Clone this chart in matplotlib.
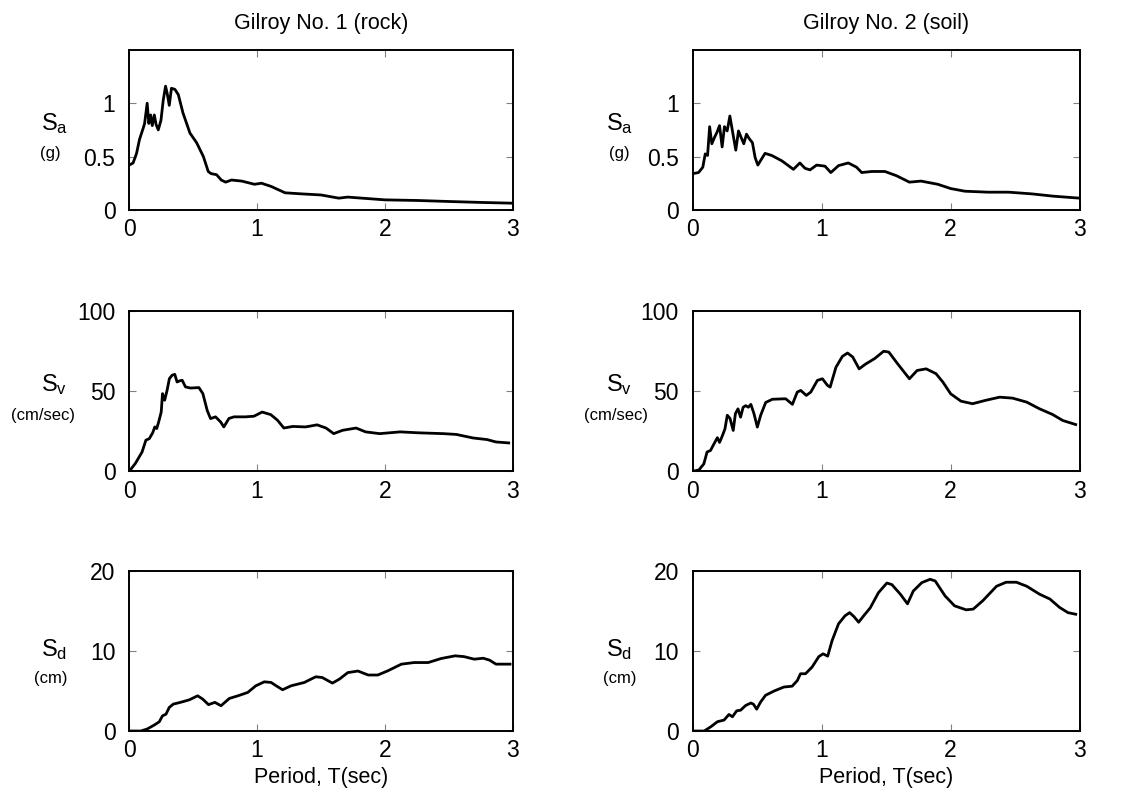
import matplotlib
matplotlib.use('Agg')
from matplotlib import pyplot as plt

plt.rcParams['font.family'] = ['Liberation Sans', 'DejaVu Sans']
plt.rcParams['mathtext.fontset'] = 'custom'
plt.rcParams['mathtext.rm'] = 'Liberation Sans'
plt.rcParams['mathtext.it'] = 'Liberation Sans'

# Gilroy No. 1 (rock) - spectral acceleration (g)
rock_sa_t = [0, 0.03, 0.057, 0.08, 0.11, 0.12, 0.14, 0.153, 0.167, 0.18, 0.196, 0.21,
             0.227, 0.248, 0.266, 0.284, 0.297, 0.313, 0.33, 0.357, 0.384, 0.42, 0.475,
             0.527, 0.58, 0.618, 0.64, 0.683, 0.72, 0.754, 0.8, 0.88, 0.98, 1.035, 1.11,
             1.22, 1.35, 1.5, 1.64, 1.71, 1.82, 2.0, 2.26, 2.52, 2.78, 2.99]
rock_sa = [0.42, 0.44, 0.53, 0.66, 0.77, 0.81, 1.0, 0.81, 0.89, 0.79, 0.89, 0.8,
           0.75, 0.84, 1.03, 1.16, 1.09, 0.98, 1.14, 1.13, 1.08, 0.91, 0.72,
           0.63, 0.5, 0.36, 0.34, 0.33, 0.28, 0.26, 0.28, 0.27, 0.24, 0.25, 0.22,
           0.16, 0.15, 0.14, 0.11, 0.12, 0.11, 0.094, 0.088, 0.078, 0.069, 0.063]

# Gilroy No. 2 (soil) - spectral acceleration (g)
soil_sa_t = [0, 0.044, 0.077, 0.096, 0.114, 0.13, 0.147, 0.168, 0.188, 0.207, 0.227,
             0.245, 0.266, 0.287, 0.307, 0.333, 0.354, 0.374, 0.395, 0.416, 0.436,
             0.462, 0.483, 0.504, 0.524, 0.56, 0.612, 0.69, 0.78, 0.83, 0.87, 0.909,
             0.96, 1.025, 1.07, 1.13, 1.206, 1.27, 1.31, 1.387, 1.49, 1.58, 1.68,
             1.77, 1.9, 2.0, 2.11, 2.29, 2.45, 2.63, 2.8, 3.0]
soil_sa = [0.34, 0.35, 0.4, 0.525, 0.51, 0.78, 0.62, 0.68, 0.73, 0.79, 0.59,
           0.78, 0.74, 0.88, 0.74, 0.56, 0.74, 0.68, 0.62, 0.71, 0.67,
           0.63, 0.49, 0.42, 0.46, 0.53, 0.51, 0.46, 0.38, 0.44, 0.39, 0.375,
           0.42, 0.41, 0.35, 0.415, 0.44, 0.4, 0.35, 0.36, 0.36, 0.32, 0.26,
           0.27, 0.24, 0.2, 0.175, 0.166, 0.166, 0.15, 0.128, 0.11]

# Gilroy No. 1 (rock) - spectral velocity (cm/sec)
rock_sv_t = [0, 0.047, 0.1, 0.13, 0.157, 0.183, 0.2, 0.215, 0.23, 0.25, 0.26, 0.277,
             0.296, 0.314, 0.335, 0.356, 0.374, 0.395, 0.414, 0.44, 0.48, 0.545,
             0.576, 0.61, 0.636, 0.675, 0.715, 0.74, 0.78, 0.82, 0.91, 0.976, 1.04,
             1.107, 1.16, 1.21, 1.28, 1.38, 1.47, 1.54, 1.6, 1.67, 1.775, 1.85,
             1.96, 2.12, 2.27, 2.46, 2.56, 2.69, 2.8, 2.87, 2.97]
rock_sv = [0, 4.8, 12, 19.4, 20.4, 24, 27.7, 26.7, 30.8, 37, 48.5, 44.4,
           50.6, 57.9, 60, 60.6, 55.8, 56.5, 56.9, 52.7, 52, 52.3,
           48.5, 38, 32.9, 34, 30.8, 27.7, 33, 34, 34, 34.4, 37,
           35.4, 31.9, 27, 28, 27.7, 29, 27, 23.5, 25.6, 27, 24.6,
           23.5, 24.6, 24, 23.5, 23, 20.8, 19.8, 18.3, 17.7]

# Gilroy No. 2 (soil) - spectral velocity (cm/sec)
soil_sv_t = [0, 0.047, 0.085, 0.11, 0.137, 0.163, 0.19, 0.207, 0.228, 0.249, 0.267,
             0.288, 0.313, 0.33, 0.35, 0.37, 0.39, 0.41, 0.43, 0.45, 0.474, 0.5,
             0.526, 0.565, 0.617, 0.72, 0.772, 0.81, 0.837, 0.88, 0.915, 0.966,
             1.005, 1.044, 1.065, 1.11, 1.16, 1.2, 1.24, 1.29, 1.34, 1.41, 1.48,
             1.52, 1.59, 1.68, 1.74, 1.81, 1.886, 1.94, 2.0, 2.08, 2.17, 2.27,
             2.38, 2.48, 2.59, 2.69, 2.79, 2.87, 2.97]
soil_sv = [0, 0.8, 4.6, 12, 13, 17, 21, 18, 22, 26.5, 35,
           33, 25.5, 36, 39, 33.8, 40, 41, 40, 41.8, 36, 27.6,
           35, 43, 45, 45.3, 41.8, 49.5, 50.5, 47.4, 49.5, 56.8,
           57.8, 53.7, 52.6, 65, 71.8, 73.9, 71.4, 64, 67, 70.4, 75,
           74.5, 67, 57.8, 63, 64, 61, 55.7, 48.4, 43.8, 42.2, 44.3,
           46.3, 45.7, 43.2, 39, 35.5, 31.7, 29.2]

# Gilroy No. 1 (rock) - spectral displacement (cm)
rock_sd_t = [0, 0.09, 0.14, 0.196, 0.235, 0.26, 0.287, 0.313, 0.345, 0.38, 0.418,
             0.47, 0.535, 0.574, 0.62, 0.67, 0.718, 0.783, 0.85, 0.927, 0.99,
             1.057, 1.11, 1.15, 1.2, 1.266, 1.37, 1.46, 1.51, 1.59, 1.645, 1.71,
             1.79, 1.87, 1.945, 2.02, 2.13, 2.23, 2.34, 2.44, 2.55, 2.62, 2.7,
             2.77, 2.82, 2.87, 2.98]
rock_sd = [0, 0, 0.25, 0.75, 1.16, 1.9, 2.1, 2.95, 3.37, 3.5, 3.66,
           3.9, 4.4, 4.0, 3.3, 3.58, 3.16, 4.07, 4.4, 4.82, 5.65,
           6.15, 6.07, 5.65, 5.16, 5.65, 6.07, 6.78, 6.69, 5.99, 6.49, 7.3,
           7.5, 7.0, 7.0, 7.5, 8.36, 8.56, 8.56, 9.06, 9.4, 9.3, 8.98,
           9.1, 8.86, 8.36, 8.36]

# Gilroy No. 2 (soil) - spectral displacement (cm)
soil_sd_t = [0, 0.088, 0.14, 0.19, 0.242, 0.28, 0.307, 0.34, 0.37, 0.41, 0.45, 0.47,
             0.495, 0.526, 0.564, 0.63, 0.706, 0.77, 0.81, 0.835, 0.874, 0.925,
             0.977, 1.01, 1.046, 1.08, 1.13, 1.18, 1.216, 1.25, 1.286, 1.325,
             1.376, 1.44, 1.505, 1.544, 1.61, 1.665, 1.71, 1.776, 1.84, 1.88,
             1.956, 2.03, 2.12, 2.175, 2.25, 2.356, 2.43, 2.51, 2.59, 2.69, 2.77,
             2.845, 2.91, 2.97]
soil_sd = [0, 0, 0.54, 1.16, 1.37, 2.07, 1.78, 2.53, 2.6, 3.2, 3.5, 3.35,
           2.73, 3.64, 4.47, 5.0, 5.5, 5.6, 6.3, 7.16, 7.16, 8.0,
           9.3, 9.65, 9.36, 11.3, 13.4, 14.4, 14.8, 14.3, 13.6, 14.4,
           15.4, 17.3, 18.5, 18.3, 17.1, 15.9, 17.5, 18.55, 18.97, 18.76,
           16.9, 15.65, 15.15, 15.24, 16.3, 18.1, 18.6, 18.6, 18.1, 17.1, 16.5,
           15.45, 14.8, 14.6]

titles = ['Gilroy No. 1 (rock)', 'Gilroy No. 2 (soil)']
quantities = [r'S$_\mathrm{a}$', r'S$_\mathrm{v}$', r'S$_\mathrm{d}$']
units = ['(g)', '(cm/sec)', '(cm)']
y_limits = [1.5, 100, 20]
y_ticks = [[0, 0.5, 1], [0, 50, 100], [0, 10, 20]]
y_ticklabels = [['0', '0.5', '1'], ['0', '50', '100'], ['0', '10', '20']]
x_ticks = [0, 1, 2, 3]

curves = [
    [(rock_sa_t, rock_sa), (soil_sa_t, soil_sa)],
    [(rock_sv_t, rock_sv), (soil_sv_t, soil_sv)],
    [(rock_sd_t, rock_sd), (soil_sd_t, soil_sd)],
]

fig = plt.figure(figsize=(11.34, 7.92), dpi=100)

col_left = [0.114, 0.611]
col_width = [0.338, 0.341]
row_bottom = [0.735, 0.405, 0.077]
row_height = 0.202
unit_x = [[-0.205, -0.226], [-0.19, -0.20]]

for r in range(3):
    for c in range(2):
        ax = fig.add_axes([col_left[c], row_bottom[r], col_width[c], row_height])
        t, vals = curves[r][c]
        ax.plot(t, vals, color='black', lw=2.0, solid_joinstyle='round')
        ax.set_xlim(0, 3)
        ax.set_ylim(0, y_limits[r])
        ax.set_xticks(x_ticks)
        ax.set_xticklabels([str(v) for v in x_ticks])
        ax.set_yticks(y_ticks[r])
        ax.set_yticklabels(y_ticklabels[r])
        ax.tick_params(direction='in', length=5, width=0.8, color='0.5',
                       top=True, right=True, labelsize=16.5)
        ax.tick_params(axis='y', pad=10)
        ax.tick_params(axis='x', pad=6)
        for s in ax.spines.values():
            s.set_linewidth(1.4)

        ax.text(-0.196 if c == 0 else -0.19, 0.54 if r < 2 else 0.51, quantities[r],
                transform=ax.transAxes, ha='center', va='center', fontsize=17)
        ax.text(unit_x[c][0] if r != 1 else unit_x[c][1], 0.35 if r < 2 else 0.33,
                units[r], transform=ax.transAxes, ha='center', va='center', fontsize=12)

        if r == 0:
            ax.set_title(titles[c], fontsize=15.5, pad=15)
        if r == 2:
            ax.set_xlabel('Period, T(sec)', fontsize=15.5, labelpad=3)

plt.savefig('out.png', dpi=100)
